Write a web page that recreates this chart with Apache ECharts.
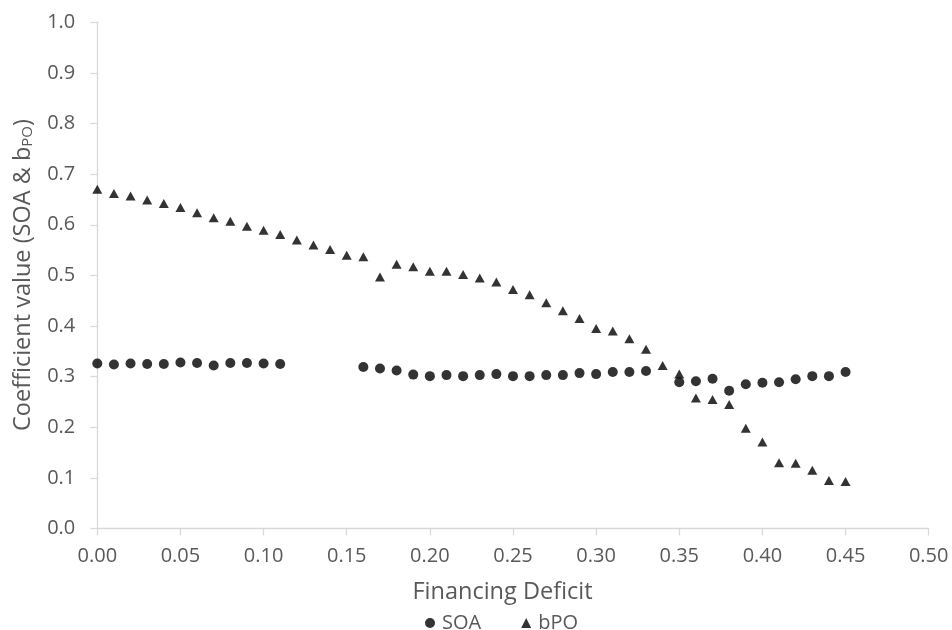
<!DOCTYPE html>
<html>
<head>
<meta charset="utf-8">
<script src="https://cdn.jsdelivr.net/npm/echarts@6/dist/echarts.min.js"></script>
<style>html,body{margin:0;padding:0;background:#fff;}#c{width:952px;height:630px;}</style>
</head>
<body>
<div id="c"></div>
<script>
var deficit = [0.00,0.01,0.02,0.03,0.04,0.05,0.06,0.07,0.08,0.09,0.10,0.11,0.12,0.13,0.14,0.15,0.16,0.17,0.18,0.19,0.20,0.21,0.22,0.23,0.24,0.25,0.26,0.27,0.28,0.29,0.30,0.31,0.32,0.33,0.34,0.35,0.36,0.37,0.38,0.39,0.40,0.41,0.42,0.43,0.44,0.45];
var soa = [0.326,0.324,0.326,0.325,0.325,0.328,0.327,0.322,0.327,0.327,0.326,0.325,null,null,null,null,0.319,0.316,0.312,0.304,0.301,0.303,0.301,0.303,0.305,0.301,0.301,0.303,0.303,0.307,0.305,0.309,0.309,0.311,null,0.289,0.291,0.296,0.272,0.285,0.288,0.289,0.295,0.301,0.301,0.309];
var bpo = [0.670,0.662,0.657,0.649,0.642,0.634,0.624,0.614,0.607,0.597,0.589,0.581,0.570,0.560,0.551,0.540,0.537,0.497,0.522,0.517,0.508,0.508,0.502,0.495,0.487,0.472,0.462,0.446,0.430,0.415,0.395,0.390,0.375,0.354,0.322,0.305,0.258,0.255,0.245,0.198,0.171,0.130,0.129,0.115,0.095,0.093];
var seriesNames = ['SOA','bPO'];
var xTitle = 'Financing Deficit';

function pairs(ys){
  var out = [];
  for (var i = 0; i < deficit.length; i++) { if (ys[i] !== null) out.push([deficit[i], ys[i]]); }
  return out;
}
var FONT = 'Open Sans';
var TXT = '#595959';
var AX = '#d9d9d9';
var chart = echarts.init(document.getElementById('c'), null, {renderer:'canvas'});
chart.setOption({
  animation:false,
  backgroundColor:'#fff',
  grid:{left:97.3, right:23.3, top:22.3, bottom:101.5, containLabel:false},
  xAxis:{type:'value', min:0, max:0.5, interval:0.05,
    axisLine:{show:true, lineStyle:{color:AX, width:1.3}},
    axisTick:{show:true, length:7, lineStyle:{color:AX, width:1.3}},
    splitLine:{show:false},
    axisLabel:{color:TXT, fontFamily:FONT, fontSize:20, margin:18, formatter:function(v){return v.toFixed(2);}}
  },
  yAxis:{type:'value', min:0, max:1, interval:0.1,
    axisLine:{show:true, lineStyle:{color:AX, width:1.3}},
    axisTick:{show:true, length:7, lineStyle:{color:AX, width:1.3}},
    splitLine:{show:false},
    axisLabel:{color:TXT, fontFamily:FONT, fontSize:20, margin:22, formatter:function(v){return v.toFixed(1);}}
  },
  legend:{left:420, top:608, itemWidth:10, itemHeight:10, itemGap:40,
    textStyle:{color:TXT, fontFamily:FONT, fontSize:20, padding:[0,0,0,2]},
    data:[{name:seriesNames[0], icon:'circle'},{name:seriesNames[1], icon:'triangle'}]
  },
  graphic:[
    {type:'text', x:502.5, y:592, style:{text:xTitle, fill:TXT, font:'23.5px "Open Sans"', align:'center', verticalAlign:'middle'}},
    {type:'text', x:23, y:275, rotation:Math.PI/2, style:{
      text:'{a|Coefficient value (SOA & b}{s|PO}{a|)}', align:'center', verticalAlign:'middle',
      rich:{a:{fill:TXT, fontFamily:FONT, fontSize:23.5}, s:{fill:TXT, fontFamily:FONT, fontSize:15, padding:[10,0,0,0]}}
    }}
  ],
  series:[
    {name:seriesNames[0], type:'scatter', symbol:'circle', symbolSize:10, itemStyle:{color:'#000'}, data:pairs(soa)},
    {name:seriesNames[1], type:'scatter', symbol:'triangle', symbolSize:[10,9], itemStyle:{color:'#000'}, data:pairs(bpo)}
  ]
});
</script>
</body>
</html>
